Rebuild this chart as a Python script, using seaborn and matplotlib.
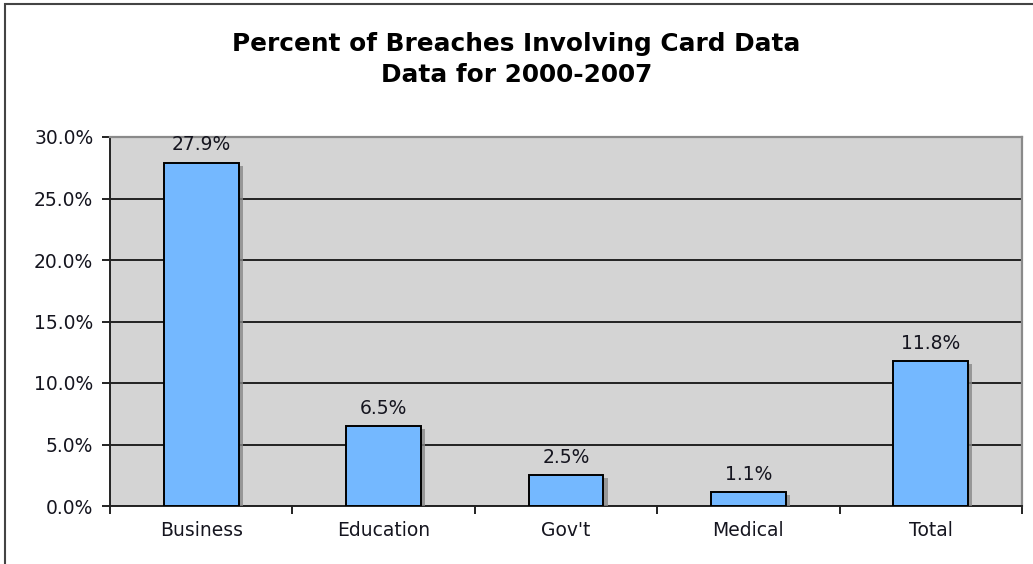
import matplotlib
matplotlib.use("Agg")
import matplotlib.pyplot as plt
import matplotlib.patheffects as pe
from matplotlib.patches import Rectangle
from matplotlib.ticker import FuncFormatter, MultipleLocator, FixedLocator
import seaborn as sns
import pandas as pd

categories = ["Business", "Education", "Gov't", "Medical", "Total"]
values = [27.9, 6.5, 2.5, 1.1, 11.8]
title_lines = ["Percent of Breaches Involving Card Data", "Data for 2000-2007"]

sns.set_theme(style="white")
plt.rcParams['font.family'] = ['DejaVu Sans']

df = pd.DataFrame({"category": categories, "value": values})

fig = plt.figure(figsize=(10.33, 5.64), dpi=100)
ax = fig.add_axes([110/1033, 1-506/564, (1022-110)/1033, (506-137)/564])

sns.barplot(data=df, x="category", y="value", ax=ax, color="#74B8FF",
            saturation=1, width=0.41, edgecolor="black", linewidth=1.4, zorder=3)

for p in ax.patches:
    p.set_path_effects([pe.SimplePatchShadow(offset=(3, -2), shadow_rgbFace="#888888", alpha=0.8), pe.Normal()])

txt = "#15151f"
ax.bar_label(ax.containers[0], labels=[f"{v:.1f}%" for v in values],
             padding=6, fontsize=13.5, color=txt)

ax.set_facecolor("#D4D4D4")
ax.set_ylim(0, 30)
ax.set_xlim(-0.5, len(categories) - 0.5)
ax.yaxis.set_major_locator(MultipleLocator(5))
ax.yaxis.set_major_formatter(FuncFormatter(lambda v, _: f"{v:.1f}%"))
ax.grid(axis="y", color="#222222", linewidth=1.4, zorder=1)
ax.set_axisbelow(True)

ax.xaxis.set_minor_locator(FixedLocator([i - 0.5 for i in range(len(categories) + 1)]))
ax.tick_params(axis="x", which="major", length=0, pad=11, labelsize=13.5, colors=txt)
ax.tick_params(axis="x", which="minor", length=6, width=1.4, color="#222222", direction="out", bottom=True)
ax.tick_params(axis="y", which="major", length=6, width=1.4, color="#222222", direction="out",
               left=True, pad=6, labelsize=13.5, labelcolor=txt)

ax.set_xlabel("")
ax.set_ylabel("")

for side in ["left", "bottom"]:
    ax.spines[side].set_color("#222222")
    ax.spines[side].set_linewidth(1.4)
for side in ["top", "right"]:
    ax.spines[side].set_color("#8a8a8a")
    ax.spines[side].set_linewidth(1.6)
    ax.spines[side].set_visible(True)

fig.text(0.5, 1 - 44/564, title_lines[0], ha="center", va="center", fontsize=17.8,
         fontweight="bold", color="black")
fig.text(0.5, 1 - 75/564, title_lines[1], ha="center", va="center", fontsize=17.8,
         fontweight="bold", color="black")

fig.patches.append(Rectangle((5/1033, -0.2), 1.2, 1.2 - 4/564, transform=fig.transFigure,
                             fill=False, edgecolor="#444444", linewidth=1.5))

fig.savefig("out.png", dpi=100)
